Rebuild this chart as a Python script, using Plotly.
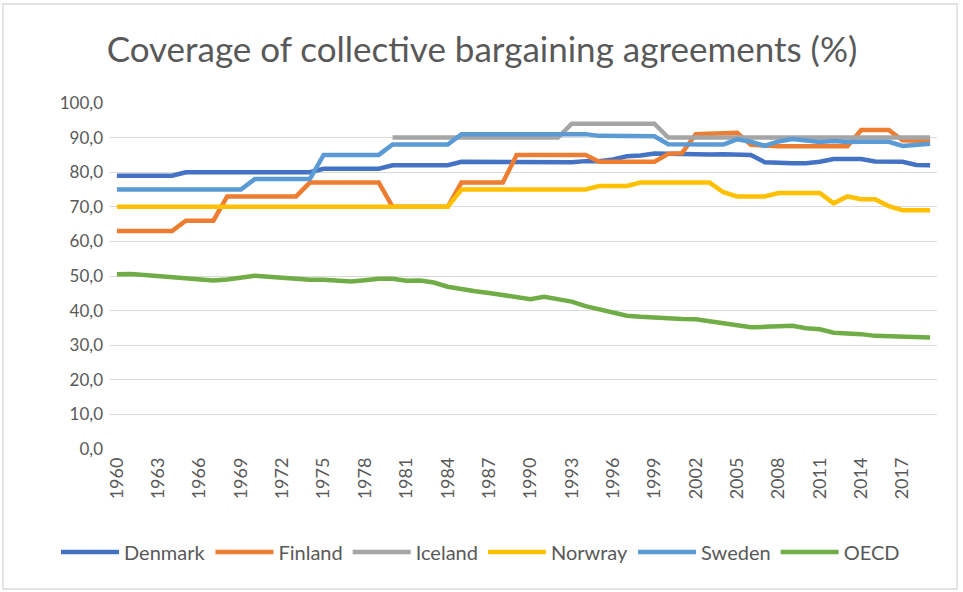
import plotly.graph_objects as go

years = list(range(1960, 2020))

denmark = [79, 79, 79, 79, 79, 80, 80, 80, 80, 80,
           80, 80, 80, 80, 80, 81, 81, 81, 81, 81,
           82, 82, 82, 82, 82, 83, 83, 83, 83, 83,
           82.8, 82.8, 82.8, 82.9, 83.2, 83.2, 83.7, 84.6, 84.8, 85.4,
           85.3, 85.2, 85.0, 85.1, 85.2, 85.1, 85.0, 82.9, 82.6, 82.6,
           82.6, 83.0, 83.8, 83.8, 83.8, 83.1, 83.0, 83.0, 82.1, 82.0]

finland = [63, 63, 63, 63, 63, 66, 66, 66, 73, 73,
           73, 73, 73, 73, 77, 77, 77, 77, 77, 77,
           70, 70, 70, 70, 70, 77, 77, 77, 77, 85,
           85, 85, 85, 85, 85, 83, 83, 83, 83, 83,
           85.3, 85.5, 91.0, 91.1, 91.4, 91.4, 87.9, 87.6, 87.5, 87.5,
           87.5, 87.5, 87.5, 87.5, 92.2, 92.2, 92.2, 89.2, 89.0, 89.0]

iceland = [None] * 20 + [90, 90, 90, 90, 90, 90, 90, 90, 90, 90,
                         90, 90, 90, 94, 94, 94, 94, 94, 94, 94,
                         90, 90, 90, 90, 90, 90, 90, 90, 90, 90,
                         90, 90, 90, 90, 90, 90, 90, 90, 90, 90]

norway = [70, 70, 70, 70, 70, 70, 70, 70, 70, 70,
          70, 70, 70, 70, 70, 70, 70, 70, 70, 70,
          70, 70, 70, 70, 70, 75, 75, 75, 75, 75,
          75, 75, 75, 75, 75, 76, 76, 76, 77, 77,
          77, 77, 77, 77, 74.2, 73, 73, 73, 74, 74,
          74, 74, 71, 73, 72.2, 72.2, 70.2, 69, 69, 69]

sweden = [75, 75, 75, 75, 75, 75, 75, 75, 75, 75,
          78, 78, 78, 78, 78, 85, 85, 85, 85, 85,
          88, 88, 88, 88, 88, 91, 91, 91, 91, 91,
          91, 91, 91, 91, 91, 90.5, 90.5, 90.5, 90.5, 90.4,
          88.1, 88, 88, 88, 88, 89.5, 88.8, 87.6, 88.9, 89.6,
          89.0, 88.7, 89.0, 88.7, 88.8, 88.9, 88.8, 87.6, 88.0, 88.2]

oecd = [50.5, 50.6, 50.3, 50.0, 49.6, 49.2, 49.0, 48.7, 49.0, 49.6,
        50.1, 49.8, 49.4, 49.0, 48.9, 48.9, 48.6, 48.4, 48.8, 49.2,
        49.2, 48.6, 48.7, 48.1, 46.9, 46.1, 45.6, 45.1, 44.4, 43.7,
        43.3, 44.0, 43.4, 42.6, 41.3, 40.4, 39.2, 38.5, 38.2, 37.9,
        37.6, 37.6, 37.5, 37.0, 36.3, 36.0, 35.2, 35.3, 35.5, 35.6,
        34.9, 34.6, 33.6, 33.5, 33.2, 32.7, 32.5, 32.4, 32.3, 32.2]

series = [
    ("Denmark", denmark, "#4472C4"),
    ("Finland", finland, "#ED7D31"),
    ("Iceland", iceland, "#A5A5A5"),
    ("Norwray", norway, "#FFC000"),
    ("Sweden", sweden, "#5B9BD5"),
    ("OECD", oecd, "#70AD47"),
]

yticks = [0, 10, 20, 30, 40, 50, 60, 70, 80, 90, 100]
xticks = list(range(1960, 2018, 3))

FONT = "Lato, 'Open Sans', sans-serif"
GREY = "#595959"

fig = go.Figure()
for name, vals, color in series:
    fig.add_trace(go.Scatter(
        x=years, y=vals, name=name, mode="lines",
        line=dict(color=color, width=4.5),
        connectgaps=False,
    ))

L, R, T, B = 110, 26, 103, 143
W, H = 963, 592
pw = W - L - R
ph = H - T - B

fig.update_layout(
    width=W, height=H,
    margin=dict(l=L, r=R, t=T, b=B, pad=0, autoexpand=False),
    paper_bgcolor="white", plot_bgcolor="white",
    separators=",.",
    font=dict(family=FONT, color=GREY, size=17),
    title=dict(text="Coverage of collective bargaining agreements (%)",
               x=482 / W, xanchor="center", y=1 - 50 / H, yanchor="middle",
               font=dict(family=FONT, size=35, color=GREY)),
    xaxis=dict(range=[1959.5, 2019.5], tickmode="array", tickvals=xticks,
               ticktext=[str(v) for v in xticks], tickangle=-90,
               showgrid=False, zeroline=False, showline=False, ticks="",
               automargin=False, ticklabelstandoff=4,
               tickfont=dict(size=18, color=GREY)),
    yaxis=dict(range=[0, 100], tickmode="array", tickvals=yticks,
               tickformat=".1f", showgrid=True, gridcolor="#D9D9D9",
               gridwidth=1.3, zeroline=False, showline=False, ticks="",
               automargin=False, ticklabelstandoff=6,
               tickfont=dict(size=17, color=GREY)),
    legend=dict(orientation="h", x=(56 - L) / pw, xanchor="left",
                y=(H - B - 552) / ph, yanchor="middle",
                font=dict(size=20, color=GREY), itemwidth=58,
                bgcolor="rgba(0,0,0,0)"),
    showlegend=True,
)

# outer chart border
fig.add_shape(type="rect", xref="paper", yref="paper",
              x0=(3 - L) / pw, x1=(957 - L) / pw,
              y0=(H - B - 589) / ph, y1=(H - B - 4) / ph,
              line=dict(color="#D9D9D9", width=1.3), layer="below")

fig.write_html("out.html",
               config={"displayModeBar": False},
               post_script="document.body.style.margin='0px';")
